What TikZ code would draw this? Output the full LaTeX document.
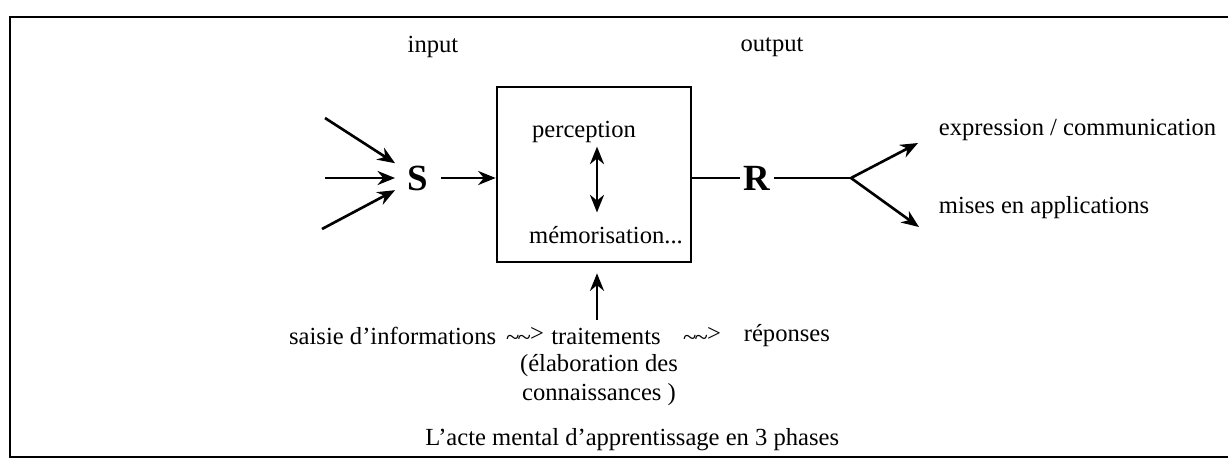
\documentclass[tikz,border=0pt]{standalone}
\usepackage{fontspec}
\setmainfont{Liberation Serif}
\usepackage{tikz}
\usetikzlibrary{positioning, arrows.meta, calc}
\newcommand{\wavyto}{\raisebox{-0.35ex}{\textasciitilde\kern-1pt\textasciitilde}\kern-0.5pt>}
\tikzset{
  lbl/.style={font=\fontsize{14}{17}\selectfont, inner sep=2pt},
  biglbl/.style={font=\fontsize{21}{24}\selectfont\bfseries, inner sep=2pt},
  procbox/.style={draw, line width=1.5pt, minimum width=3.88cm, minimum height=3.5cm},
  arr/.style={line width=1.5pt, -{Stealth[length=10pt,width=8pt]}},
  dblarr/.style={line width=1.5pt, {Stealth[length=10pt,width=8pt]}-{Stealth[length=10pt,width=8pt]}},
  link/.style={line width=1.5pt},
}

\begin{document}
\begin{tikzpicture}[x=0.02cm, y=-0.02cm]
  \useasboundingbox (0,0) rectangle (1228,468);
  \draw[line width=1.6pt] (1228,17) -- (10,17) -- (10,457) -- (1228,457);

  \node[lbl] (input) at (433,47) {input};
  \node[lbl] (output) at (772,47) {output};

  \node[procbox] (box) at (594,174.5) {};
  \node[lbl] (perc) at (584,132) {perception};
  \node[lbl] (memo) at (606,235) {mémorisation...};
  \draw[dblarr] ($(perc.south)+(13,0)$) -- ($(memo.north)+(-9,-10)$);

  \node[biglbl, inner xsep=7pt] (S) at (418,178) {S};
  \coordinate (in1) at (325,118);
  \coordinate (in2) at (325,178);
  \coordinate (in3) at (322,229);
  \draw[arr] (in1) -- (S);
  \draw[arr] (in2) -- (S);
  \draw[arr] (in3) -- (S);
  \draw[arr] (S) -- (S -| box.west);

  \node[biglbl] (R) at (757,178) {R};
  \coordinate (fk) at (851,178);
  \coordinate (tA) at (918,143);
  \coordinate (tB) at (919,227);
  \draw[link] (box.east |- R) -- (R);
  \draw[link] (R) -- (fk);
  \draw[arr] (fk) -- (tA);
  \draw[arr] (fk) -- (tB);
  \node[lbl, anchor=west] (expr) at (935,130) {expression / communication};
  \node[lbl, anchor=west] (mises) at (935,208) {mises en applications};

  \node[lbl, anchor=east] (saisie) at (500,336) {saisie d'informations};
  \node[lbl] (fl1) at (525,336) {\wavyto};
  \node[lbl] (trait) at (606,336) {traitements};
  \node[lbl] (fl2) at (702,336) {\wavyto};
  \node[lbl, anchor=west] (rep) at (740,336) {réponses};
  \node[lbl, align=center] (elab) at (599,380) {(élaboration des\\connaissances )};
  \draw[arr] ($(trait.north)+(-9,-4)$) -- ($(box.south)+(3,10)$);

  \node[lbl, anchor=east] (legende) at (843,440) {L'acte mental d'apprentissage en 3 phases};
\end{tikzpicture}
\end{document}
